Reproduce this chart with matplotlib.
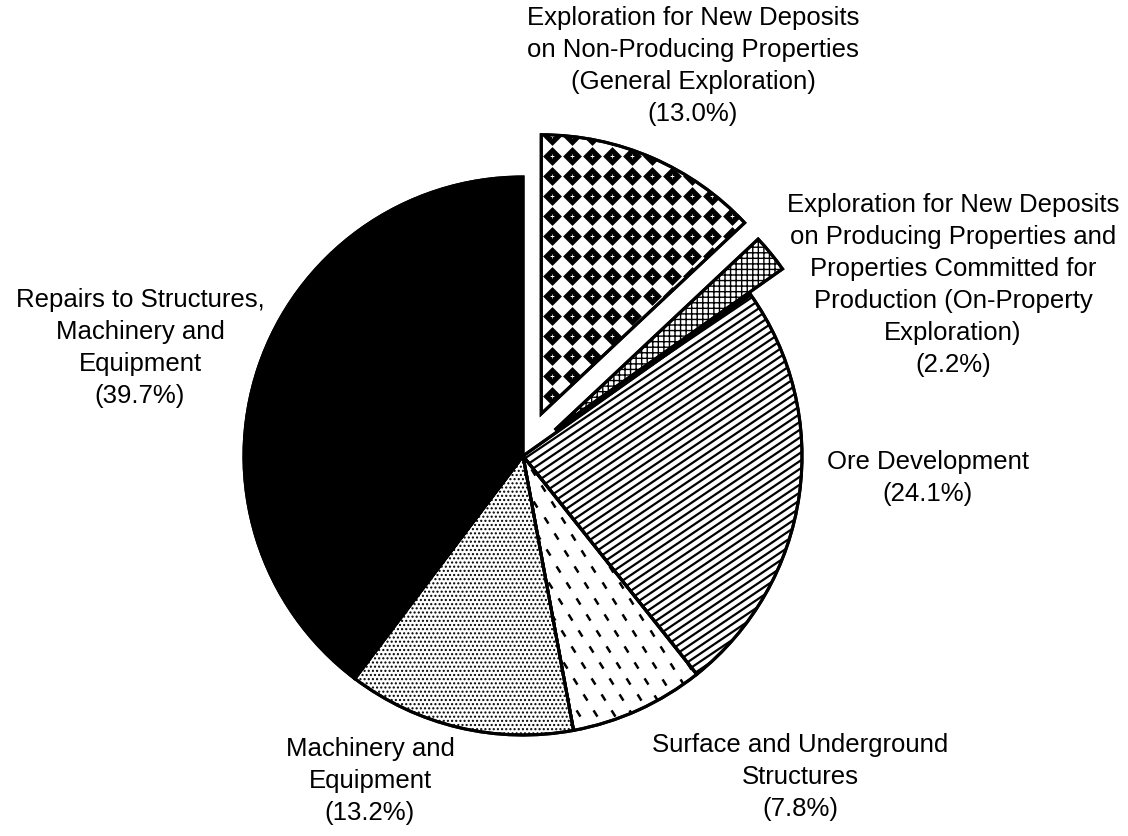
import numpy as np
import matplotlib
matplotlib.use('Agg')
import matplotlib.pyplot as plt
from matplotlib.patches import Wedge
from matplotlib.collections import LineCollection
from matplotlib.markers import MarkerStyle
from matplotlib.transforms import Affine2D

# data
labels = ['Exploration for New Deposits\non Non-Producing Properties\n(General Exploration)',
          'Exploration for New Deposits\non Producing Properties and\nProperties Committed for\nProduction (On-Property\nExploration)',
          'Ore Development',
          'Surface and Underground\nStructures',
          'Machinery and\nEquipment',
          'Repairs to Structures,\nMachinery and\nEquipment']
shares = [13.0, 2.2, 24.1, 7.8, 13.2, 39.7]

# label centres in pixels (from top-left)
label_pos = [(693, 66), (953, 285), (928, 478), (800, 777), (370, 781), (140, 348)]

W, H = 1128, 836
cx, cy, R = 523, H - 456, 279
explode = [46, 41, 0, 0, 0, 0]   # in pixels

plt.rcParams['font.family'] = ['Liberation Sans', 'DejaVu Sans']
fig = plt.figure(figsize=(W / 100, H / 100), dpi=100)
ax = fig.add_axes([0, 0, 1, 1])

wedges, _ = ax.pie(shares, startangle=90, counterclock=False, explode=explode,
                   radius=R, center=(cx, cy), frame=False,
                   wedgeprops=dict(edgecolor='black', linewidth=2.2, facecolor='white'))
ax.set_xlim(0, W)
ax.set_ylim(0, H)
ax.set_aspect('equal')
ax.axis('off')

# general exploration: black diamonds with white specks
w = wedges[0]
gx, gy = np.meshgrid(np.arange(512, 800, 20), np.arange(H - 176 + 200, H - 460, -20))
d1 = ax.scatter(gx.ravel(), gy.ravel(), marker='D', s=92, color='black', linewidths=0, zorder=3)
d2 = ax.scatter(gx.ravel(), gy.ravel(), marker='+', s=8, color='white', linewidths=0.5, zorder=4)
d1.set_clip_path(w)
d2.set_clip_path(w)

# on-property exploration: fine grid
wedges[1].set_hatch('+++')

# ore development: slanted lines
w = wedges[2]
ang = np.deg2rad(34)
segs = []
for off in np.arange(-900, 900, 6.5):
    x0, y0 = cx - off * np.sin(ang), cy + off * np.cos(ang)
    segs.append([(x0 - 500 * np.cos(ang), y0 - 500 * np.sin(ang)),
                 (x0 + 500 * np.cos(ang), y0 + 500 * np.sin(ang))])
lc = LineCollection(segs, colors='black', linewidths=1.6, zorder=3)
ax.add_collection(lc)
lc.set_clip_path(w)

# surface and underground structures: short dashes in staggered rows
w = wedges[3]
da = np.deg2rad(-58)
u = np.array([np.cos(da), np.sin(da)])        # along dash
v = np.array([-np.sin(da), np.cos(da)])       # across dash
ii, jj = np.meshgrid(np.arange(-40, 40), np.arange(-40, 40))
pts = np.array([cx, cy])[None, :] + (ii.ravel()[:, None] * 15) * v + \
      (jj.ravel()[:, None] * 19 + (ii.ravel()[:, None] % 2) * 9.5) * u
dash = MarkerStyle('_', transform=Affine2D().rotate_deg(-58))
d3 = ax.scatter(pts[:, 0], pts[:, 1], marker=dash, s=28, color='black', linewidths=1.8, zorder=3)
d3.set_clip_path(w)

# machinery and equipment: dots
wedges[4].set_hatch('....')

# repairs: solid black
wedges[5].set_facecolor('black')

# outlines on top of the textures
for w in wedges:
    w.set_zorder(2)
    ax.add_patch(Wedge(w.center, w.r, w.theta1, w.theta2, fill=False,
                       edgecolor='black', linewidth=2.2, zorder=5))

for lab, val, (tx, ty) in zip(labels, shares, label_pos):
    ax.text(tx, H - ty, f'{lab}\n({val:.1f}%)', ha='center', va='center',
            fontsize=18.5, linespacing=1.42, color='black')

fig.savefig('out.png', dpi=100, facecolor='white')
